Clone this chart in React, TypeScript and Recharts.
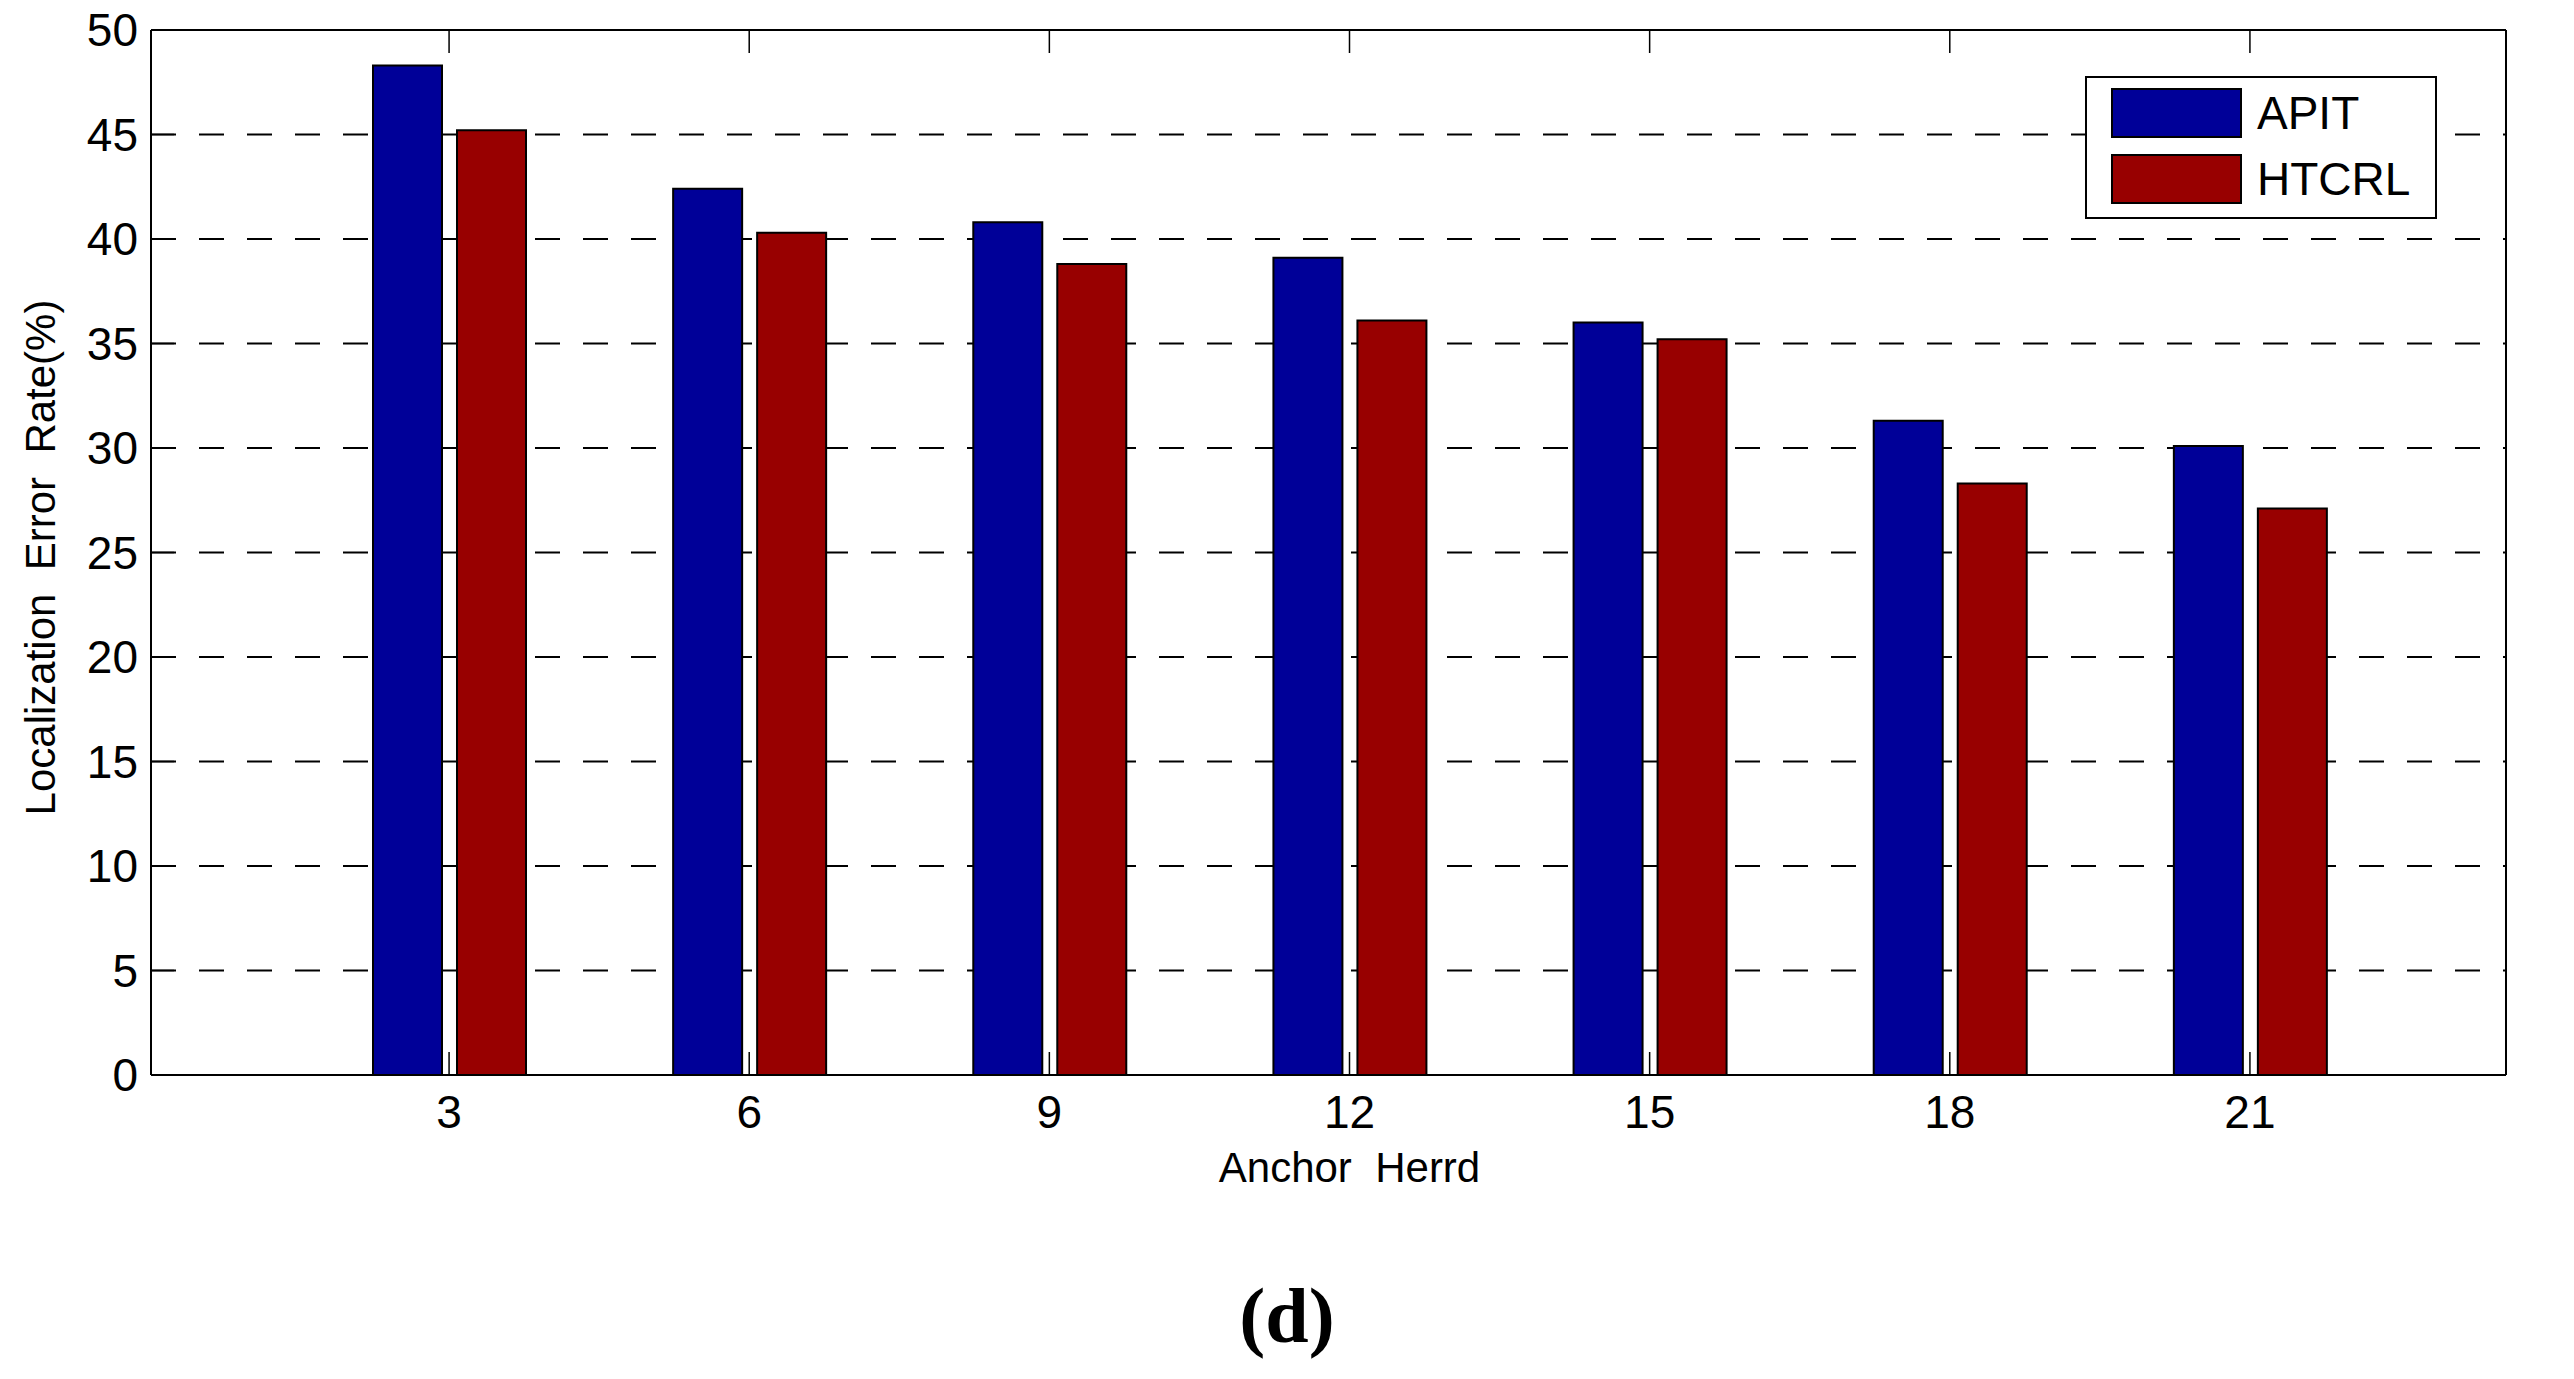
import { BarChart, Bar, XAxis, YAxis, CartesianGrid, Legend } from 'recharts';

const categories = ['3', '6', '9', '12', '15', '18', '21'];
const apit = [48.3, 42.4, 40.8, 39.1, 36.0, 31.3, 30.1];
const htcrl = [45.2, 40.3, 38.8, 36.1, 35.2, 28.3, 27.1];
const yTicks = [0, 5, 10, 15, 20, 25, 30, 35, 40, 45, 50];

const BLUE = '#000098';
const RED = '#980000';
const FONT = '"Liberation Sans", Arial, Helvetica, sans-serif';

const data = categories.map((c, i) => ({ anchor: c, APIT: apit[i], HTCRL: htcrl[i] }));

const tickStyle = { fontSize: 46, fill: '#000', fontFamily: FONT };
const lineStyle = { stroke: '#000', strokeWidth: 2 };
const tickLineStyle = { stroke: '#000', strokeWidth: 1.5 };

function YLabel(props: any) {
  const vb = props.viewBox || { x: 0, y: 0, width: 0, height: 0 };
  const cx = vb.x + 40;
  const cy = vb.y + vb.height / 2 + 5;
  return (
    <text
      x={cx}
      y={cy}
      transform={`rotate(-90 ${cx} ${cy})`}
      textAnchor="middle"
      dominantBaseline="central"
      fontSize={42}
      fontFamily={FONT}
      fill="#000"
      style={{ whiteSpace: 'pre' }}
    >
      {'Localization  Error  Rate(%)'}
    </text>
  );
}

function XLabel(props: any) {
  const vb = props.viewBox || { x: 0, y: 0, width: 0, height: 0 };
  return (
    <text
      x={vb.x + vb.width / 2 + 21}
      y={vb.y + 107}
      textAnchor="middle"
      fontSize={42}
      fontFamily={FONT}
      fill="#000"
      style={{ whiteSpace: 'pre' }}
    >
      {'Anchor  Herrd'}
    </text>
  );
}

function LegendBox() {
  const rows = [
    { name: 'APIT', color: BLUE, top: 12 },
    { name: 'HTCRL', color: RED, top: 78 },
  ];
  return (
    <div
      style={{
        position: 'relative',
        width: 352,
        height: 143,
        border: '2px solid #000',
        boxSizing: 'border-box',
        background: '#fff',
        fontFamily: FONT,
      }}
    >
      {rows.map((r) => (
        <div key={r.name}>
          <div
            style={{
              position: 'absolute',
              left: 24,
              top: r.top - 2,
              width: 131,
              height: 50,
              background: r.color,
              border: '2px solid #000',
              boxSizing: 'border-box',
            }}
          />
          <div
            style={{
              position: 'absolute',
              left: 170,
              top: r.top - 2,
              height: 50,
              lineHeight: '50px',
              fontSize: 46,
              color: '#000',
            }}
          >
            {r.name}
          </div>
        </div>
      ))}
    </div>
  );
}

export default function App() {
  return (
    <div style={{ position: 'relative', width: 2574, height: 1379, background: '#fff' }}>
      <style>{'body{margin:0;background:#fff}'}</style>
      <BarChart
        width={2574}
        height={1379}
        data={data}
        margin={{ top: 29, right: 67, left: 0, bottom: 184 }}
        barSize={69}
        barGap={15}
      >
        <CartesianGrid vertical={false} stroke="#000" strokeWidth={2} strokeDasharray="25 23" />
        <XAxis
          dataKey="anchor"
          interval={0}
          height={120}
          padding={{ left: 148, right: 106 }}
          axisLine={lineStyle}
          tickLine={tickLineStyle}
          tickSize={-23}
          tickMargin={43}
          tick={tickStyle}
          label={<XLabel />}
        />
        <XAxis
          xAxisId="top"
          dataKey="anchor"
          orientation="top"
          interval={0}
          height={1}
          padding={{ left: 148, right: 106 }}
          axisLine={lineStyle}
          tickLine={tickLineStyle}
          tickSize={-23}
          tick={() => <g />}
        />
        <YAxis
          domain={[0, 50]}
          ticks={yTicks}
          interval={0}
          width={151}
          axisLine={lineStyle}
          tickLine={tickLineStyle}
          tickSize={-23}
          tickMargin={36}
          tick={tickStyle}
          label={<YLabel />}
        />
        <YAxis
          yAxisId="right"
          orientation="right"
          domain={[0, 50]}
          ticks={yTicks}
          interval={0}
          width={1}
          axisLine={lineStyle}
          tickLine={tickLineStyle}
          tickSize={-23}
          tick={() => <g />}
        />
        <Legend
          layout="vertical"
          align="center"
          verticalAlign="middle"
          content={() => <LegendBox />}
          wrapperStyle={{ position: 'absolute', top: 76, left: 2085, width: 352, height: 143 }}
        />
        <Bar dataKey="APIT" fill={BLUE} stroke="#000" strokeWidth={2} isAnimationActive={false} />
        <Bar dataKey="HTCRL" fill={RED} stroke="#000" strokeWidth={2} isAnimationActive={false} />
      </BarChart>
      <div
        style={{
          position: 'absolute',
          left: 0,
          top: 1277,
          width: 2574,
          textAlign: 'center',
          fontFamily: '"Liberation Serif", "Times New Roman", serif',
          fontWeight: 'bold',
          fontSize: 78,
          lineHeight: 1,
          color: '#000',
        }}
      >
        (d)
      </div>
    </div>
  );
}
